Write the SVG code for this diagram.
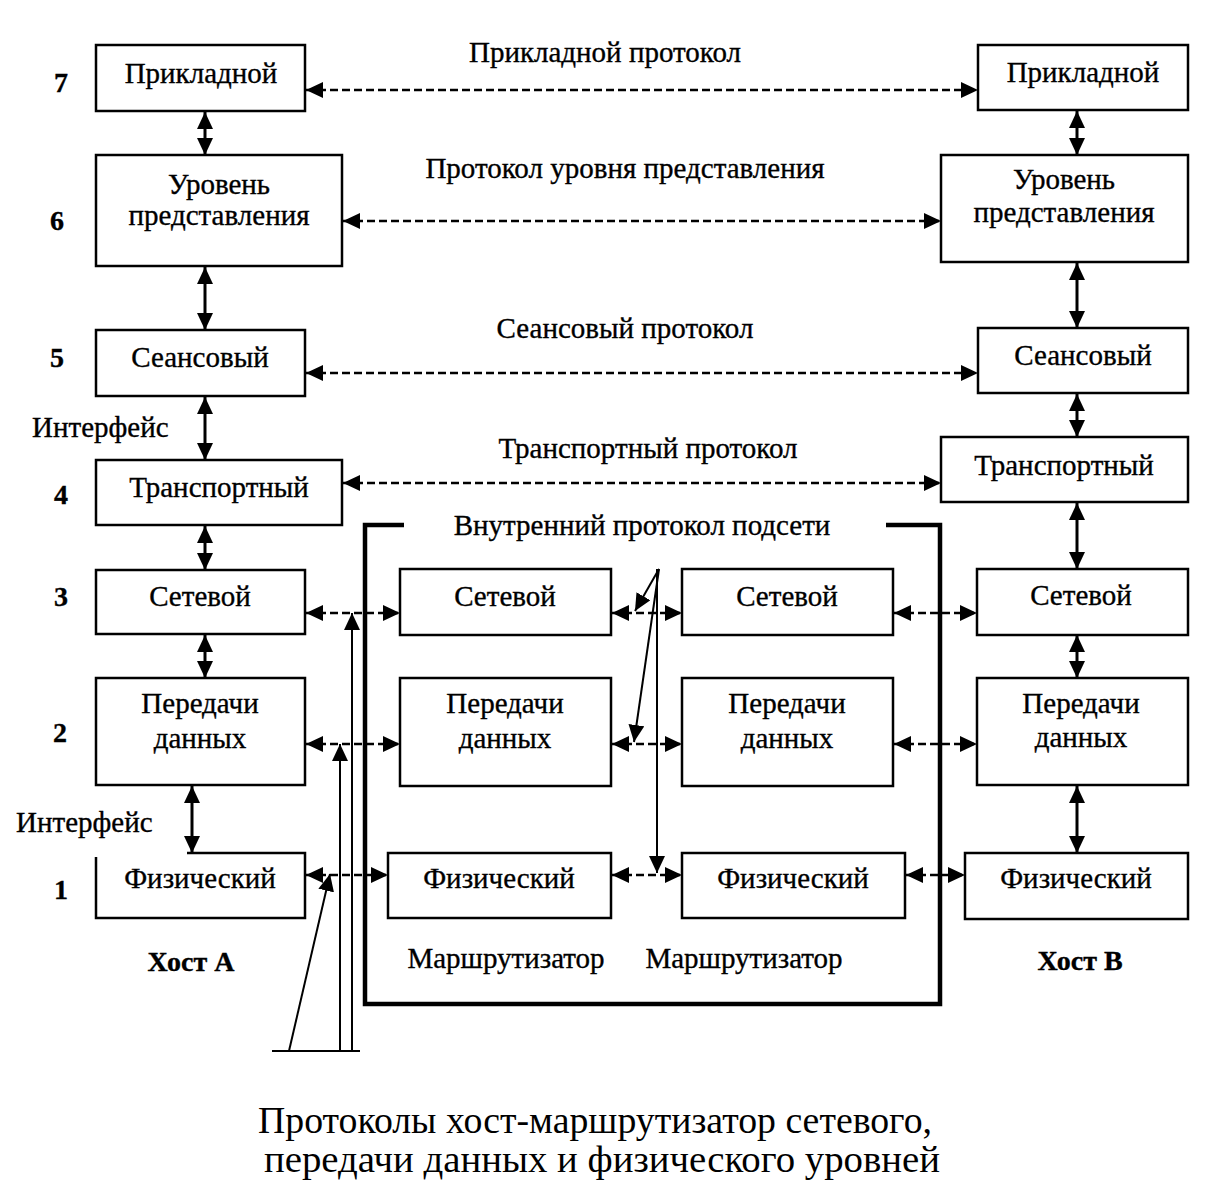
<svg xmlns="http://www.w3.org/2000/svg" width="1213" height="1202" viewBox="0 0 1213 1202">
<style>
text{font-family:"Liberation Serif","Times New Roman",serif;font-size:29px;fill:#000;stroke:#000;stroke-width:0.35;}
.c{text-anchor:middle;}
.b{font-weight:bold;font-size:28px;}
.box{fill:#fff;stroke:#000;stroke-width:2.5;}
.v{stroke:#000;stroke-width:3;fill:none;marker-start:url(#ah);marker-end:url(#ah);}
.d{stroke:#000;stroke-width:2.5;stroke-dasharray:8 4;fill:none;marker-start:url(#ah);marker-end:url(#ah);}
.p{stroke:#000;stroke-width:2;fill:none;marker-end:url(#ah);}
.thick{stroke:#000;stroke-width:4.5;fill:none;}
.cap{font-size:37px;stroke-width:0;}
</style>
<defs>
<marker id="ah" markerUnits="userSpaceOnUse" markerWidth="18" markerHeight="16" refX="17" refY="8" orient="auto-start-reverse" viewBox="0 0 18 16">
<path d="M0,0 L17,8 L0,16 z" fill="#000"/>
</marker>
</defs>
<rect width="1213" height="1202" fill="#fff"/>

<g id="subnet-border">
<path class="thick" d="M404,525 H365 V1004 H940 V525 H886"/>
</g>

<g id="connectors">
<line class="v" x1="205" y1="112" x2="205" y2="155"/>
<line class="v" x1="205" y1="267" x2="205" y2="330"/>
<line class="v" x1="205" y1="397" x2="205" y2="460"/>
<line class="v" x1="205" y1="526" x2="205" y2="570"/>
<line class="v" x1="205" y1="635" x2="205" y2="678"/>
<line class="v" x1="192" y1="786" x2="192" y2="853"/>
<line class="v" x1="1077" y1="111" x2="1077" y2="155"/>
<line class="v" x1="1077" y1="263" x2="1077" y2="328"/>
<line class="v" x1="1077" y1="394" x2="1077" y2="437"/>
<line class="v" x1="1077" y1="503" x2="1077" y2="569"/>
<line class="v" x1="1077" y1="635" x2="1077" y2="678"/>
<line class="v" x1="1077" y1="786" x2="1077" y2="853"/>
<line class="d" x1="306" y1="90" x2="978" y2="90"/>
<line class="d" x1="343" y1="221" x2="941" y2="221"/>
<line class="d" x1="306" y1="373" x2="978" y2="373"/>
<line class="d" x1="343" y1="483" x2="941" y2="483"/>
<line class="d" x1="306" y1="613" x2="400" y2="613"/>
<line class="d" x1="306" y1="744" x2="400" y2="744"/>
<line class="d" x1="306" y1="875" x2="388" y2="875"/>
<line class="d" x1="612" y1="613" x2="682" y2="613"/>
<line class="d" x1="612" y1="744" x2="682" y2="744"/>
<line class="d" x1="612" y1="875" x2="682" y2="875"/>
<line class="d" x1="894" y1="613" x2="977" y2="613"/>
<line class="d" x1="894" y1="744" x2="977" y2="744"/>
<line class="d" x1="906" y1="875" x2="965" y2="875"/>
<line class="p" x1="272" y1="1051" x2="360" y2="1051" style="marker-end:none"/>
<line class="p" x1="352" y1="1051" x2="352" y2="613"/>
<line class="p" x1="340" y1="1051" x2="340" y2="744"/>
<line class="p" x1="289" y1="1051" x2="330" y2="874"/>
<line class="p" x1="659" y1="569" x2="635" y2="611"/>
<line class="p" x1="659" y1="569" x2="634" y2="742"/>
<line class="p" x1="657" y1="569" x2="657" y2="873"/>
</g>

<g id="host-a">
<g id="a7"><rect class="box" x="96" y="45" width="209" height="66"/><text class="c" x="201" y="83">Прикладной</text></g>
<g id="a6"><rect class="box" x="96" y="155" width="246" height="111"/><text class="c" x="219" y="194">Уровень</text><text class="c" x="219" y="225">представления</text></g>
<g id="a5"><rect class="box" x="96" y="330" width="209" height="66"/><text class="c" x="200" y="367">Сеансовый</text></g>
<g id="a4"><rect class="box" x="96" y="460" width="246" height="65"/><text class="c" x="219" y="497">Транспортный</text></g>
<g id="a3"><rect class="box" x="96" y="570" width="209" height="64"/><text class="c" x="200" y="606">Сетевой</text></g>
<g id="a2"><rect class="box" x="96" y="678" width="209" height="107"/><text class="c" x="200" y="713">Передачи</text><text class="c" x="200" y="748">данных</text></g>
<g id="a1"><rect x="96" y="853" width="209" height="65" fill="#fff"/><path d="M187,853 H305 V918 H96 V857" fill="none" stroke="#000" stroke-width="2.5"/><text class="c" x="200" y="888">Физический</text></g>
<text class="c b" x="191" y="971">Хост А</text>
</g>

<g id="router-1">
<g id="r1-3"><rect class="box" x="400" y="569" width="211" height="66"/><text class="c" x="505" y="606">Сетевой</text></g>
<g id="r1-2"><rect class="box" x="400" y="678" width="211" height="108"/><text class="c" x="505" y="713">Передачи</text><text class="c" x="505" y="748">данных</text></g>
<g id="r1-1"><rect class="box" x="388" y="853" width="223" height="65"/><text class="c" x="499" y="888">Физический</text></g>
<text class="c" x="506" y="968">Маршрутизатор</text>
</g>

<g id="router-2">
<g id="r2-3"><rect class="box" x="682" y="569" width="211" height="66"/><text class="c" x="787" y="606">Сетевой</text></g>
<g id="r2-2"><rect class="box" x="682" y="678" width="211" height="108"/><text class="c" x="787" y="713">Передачи</text><text class="c" x="787" y="748">данных</text></g>
<g id="r2-1"><rect class="box" x="682" y="853" width="223" height="65"/><text class="c" x="793" y="888">Физический</text></g>
<text class="c" x="744" y="968">Маршрутизатор</text>
</g>

<g id="host-b">
<g id="b7"><rect class="box" x="978" y="45" width="210" height="65"/><text class="c" x="1083" y="82">Прикладной</text></g>
<g id="b6"><rect class="box" x="941" y="155" width="247" height="107"/><text class="c" x="1064" y="189">Уровень</text><text class="c" x="1064" y="222">представления</text></g>
<g id="b5"><rect class="box" x="978" y="328" width="210" height="65"/><text class="c" x="1083" y="365">Сеансовый</text></g>
<g id="b4"><rect class="box" x="941" y="437" width="247" height="65"/><text class="c" x="1064" y="475">Транспортный</text></g>
<g id="b3"><rect class="box" x="977" y="569" width="211" height="66"/><text class="c" x="1081" y="605">Сетевой</text></g>
<g id="b2"><rect class="box" x="977" y="678" width="211" height="107"/><text class="c" x="1081" y="713">Передачи</text><text class="c" x="1081" y="747">данных</text></g>
<g id="b1"><rect class="box" x="965" y="853" width="223" height="66"/><text class="c" x="1076" y="888">Физический</text></g>
<text class="c b" x="1080" y="970">Хост В</text>
</g>

<g id="labels">
<text class="b" x="54" y="92">7</text>
<text class="b" x="50" y="230">6</text>
<text class="b" x="50" y="367">5</text>
<text class="b" x="54" y="504">4</text>
<text class="b" x="54" y="606">3</text>
<text class="b" x="53" y="742">2</text>
<text class="b" x="54" y="899">1</text>
<text x="32" y="437">Интерфейс</text>
<text x="16" y="832">Интерфейс</text>
<text class="c" x="605" y="62">Прикладной протокол</text>
<text class="c" x="625" y="178">Протокол уровня представления</text>
<text class="c" x="625" y="338">Сеансовый протокол</text>
<text class="c" x="648" y="458">Транспортный протокол</text>
<text class="c" x="642" y="535">Внутренний протокол подсети</text>
<text class="c cap" x="595" y="1133" textLength="674" lengthAdjust="spacingAndGlyphs">Протоколы хост-маршрутизатор сетевого,</text>
<text class="c cap" x="602" y="1172" textLength="676" lengthAdjust="spacingAndGlyphs">передачи данных и физического уровней</text>
</g>
</svg>
